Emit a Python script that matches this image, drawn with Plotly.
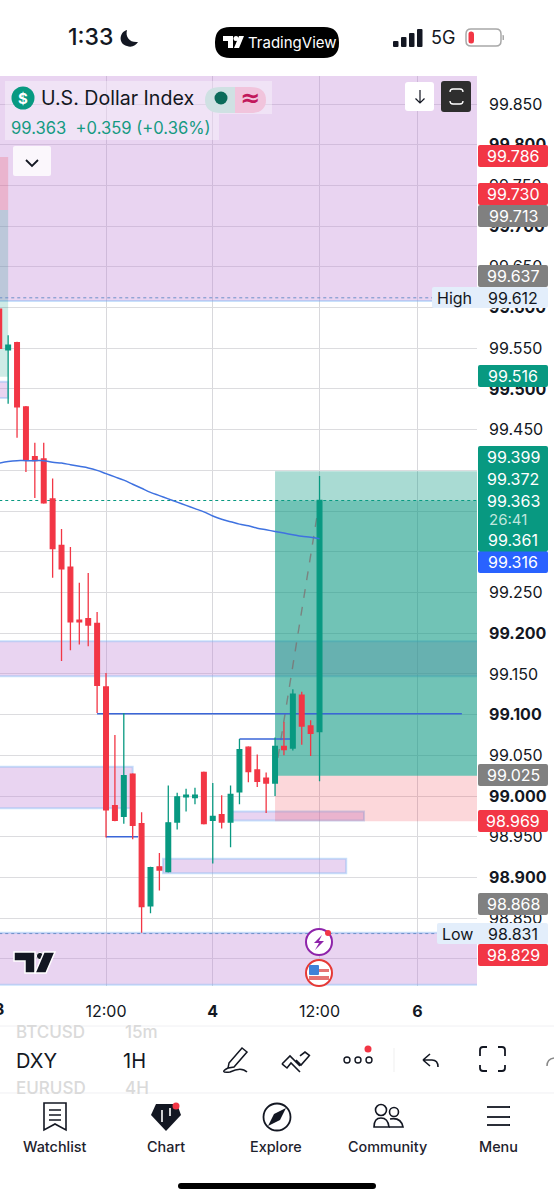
import plotly.graph_objects as go

# ---------- data ----------
opens  = [99.598,99.548,99.557,99.478,99.417,99.414,99.365,99.308,99.281,99.216,99.218,99.212,99.134,98.988,98.975,99.027,98.966,98.865,98.913,98.907,98.968,98.999,98.998,99.029,98.970,98.977,98.968,99.005,99.060,99.032,99.022,99.016,99.061,99.059,99.124,99.086,99.079]
highs  = [99.600,99.566,99.558,99.479,99.434,99.434,99.390,99.328,99.306,99.262,99.274,99.226,99.151,99.075,99.102,99.028,98.980,98.913,98.930,99.013,99.004,99.009,99.010,99.030,99.016,99.001,99.013,99.070,99.061,99.051,99.029,99.072,99.091,99.131,99.128,99.093,99.393]
lows   = [99.548,99.482,99.440,99.398,99.366,99.359,99.268,99.166,99.179,99.186,99.184,99.102,98.949,98.969,98.966,98.947,98.832,98.856,98.884,98.906,98.959,98.981,98.990,98.965,98.917,98.960,98.937,98.990,99.017,99.011,98.979,99.000,99.050,99.056,99.063,99.049,99.018]
closes = [99.550,99.554,99.478,99.413,99.412,99.360,99.304,99.279,99.214,99.214,99.210,99.136,98.983,98.970,99.025,98.964,98.864,98.912,98.909,98.967,98.999,99.001,99.001,98.966,98.975,98.968,99.002,99.057,99.030,99.018,99.016,99.061,99.057,99.125,99.086,99.077,99.363]
ma_values = [99.409,99.411,99.412,99.412,99.412,99.412,99.410,99.409,99.407,99.405,99.403,99.400,99.396,99.392,99.388,99.383,99.378,99.373,99.369,99.365,99.361,99.357,99.353,99.349,99.344,99.340,99.337,99.334,99.332,99.329,99.327,99.325,99.323,99.321,99.319,99.318,99.316]

price_ticks = [99.85,99.8,99.75,99.7,99.65,99.6,99.55,99.5,99.45,99.4,99.35,99.3,99.25,99.2,99.15,99.1,99.05,99.0,98.95,98.9,98.85,98.8]
bold_ticks  = [99.8,99.7,99.6,99.5,99.2,99.1,99.0,98.9,98.8]
time_ticks  = [12,24,36,47]
time_labels = ["12:00","<b>4</b>","12:00","<b>6</b>"]

zones = [  # x0, x1, top price, bottom price
    (-2,56,99.96,99.608),(-2,56,99.190,99.147),(-2,15.0,99.036,98.985),
    (18.4,39,98.923,98.905),(26,41,98.981,98.970),(-2,56,98.832,98.768),(-2,1,99.509,99.489)]
entry, target, stop, last = 99.025, 99.399, 98.969, 99.363
level_lines = [(11,52,99.101),(12,15.6,98.950),(27,33,99.070)]
high_price, low_price = 99.612, 98.831

tags = [("99.786","#F23645"),("99.730","#F23645"),("99.713","#808080"),("99.637","#808080"),
        ("99.516","#089981"),("99.316","#2962FF"),("99.025","#808080"),("98.969","#F23645"),
        ("98.868","#808080"),("98.829","#F23645")]
tag_y = [156,194,216,276,376,562,775,821,904,955]
block_labels = [("99.399",457,16),("99.372",479,16),("99.363",501,16),("26:41",519,15),("99.361",540,16)]

# ---------- page geometry ----------
W,H = 554,1200
L,R,T,B = 0,477,76,986
FONT = "Inter"
def px(x): return x/(R-L)
def py(y): return (B-y)/(B-T)

shapes=[]; notes=[]
def svg(s):
    out=[];n=0
    for t in s.split():
        if t.isalpha(): out.append(t);n=0
        else:
            v=float(t); out.append(f"{(px(v) if n%2==0 else py(v)):.5f}"); n+=1
    return " ".join(out)
def path(s,fill="rgba(0,0,0,0)",line=None,w=1.5,layer="above"):
    shapes.append(dict(type="path",xref="paper",yref="paper",path=svg(s),fillcolor=fill,
                       line=dict(color=line or "rgba(0,0,0,0)",width=w if line else 0),layer=layer))
def rr(x0,y0,x1,y1,r,fill="rgba(0,0,0,0)",line=None,w=1.5):
    path(f"M {x0+r} {y0} L {x1-r} {y0} Q {x1} {y0} {x1} {y0+r} L {x1} {y1-r} Q {x1} {y1} {x1-r} {y1} "
         f"L {x0+r} {y1} Q {x0} {y1} {x0} {y1-r} L {x0} {y0+r} Q {x0} {y0} {x0+r} {y0} Z",fill,line,w)
def circ(cx,cy,r,fill="rgba(0,0,0,0)",line=None,w=1.5):
    shapes.append(dict(type="circle",xref="paper",yref="paper",x0=px(cx-r),x1=px(cx+r),y0=py(cy+r),y1=py(cy-r),
                       fillcolor=fill,line=dict(color=line or "rgba(0,0,0,0)",width=w if line else 0),layer="above"))
def text(x,y,s,size,color="#131722",anchor="left",weight=400,fam=FONT):
    notes.append(dict(xref="paper",yref="paper",x=px(x),y=py(y),text=s,showarrow=False,xanchor=anchor,yanchor="middle",
                      borderpad=0,borderwidth=0,font=dict(family=fam,size=size,color=color,weight=weight)))
def dshape(**k):
    k.setdefault("layer","between"); shapes.append(k)

# ---------- chart drawings ----------
ZONE="rgba(190,130,215,0.34)"; ZB="rgba(120,180,245,0.40)"
for x0,x1,top,bot in zones:
    dshape(type="rect",x0=x0,x1=x1,y0=bot,y1=top,xref="x",yref="y",fillcolor=ZONE,line=dict(color=ZB,width=2))
# left-edge remains of an earlier position
dshape(type="rect",xref="x",yref="y",x0=-2,x1=1,y0=99.72,y1=99.785,fillcolor="rgba(242,54,69,0.2)",line=dict(width=0))
dshape(type="rect",xref="x",yref="y",x0=-2,x1=1,y0=99.515,y1=99.72,fillcolor="rgba(8,153,129,0.2)",line=dict(width=0))
# long position box
dshape(type="rect",xref="x",yref="y",x0=31,x1=56,y0=entry,y1=target,fillcolor="rgba(8,153,129,0.35)",line=dict(width=0))
dshape(type="rect",xref="x",yref="y",x0=31,x1=56,y0=entry,y1=last,fillcolor="rgba(8,153,129,0.35)",line=dict(width=0))
dshape(type="rect",xref="x",yref="y",x0=31,x1=56,y0=stop,y1=entry,fillcolor="rgba(242,54,69,0.2)",line=dict(width=0))
dshape(type="line",xref="x",yref="y",x0=31,x1=36,y0=entry,y1=last,line=dict(color="rgba(125,110,110,0.75)",width=1.4,dash="dash"))
for x0,x1,p in level_lines:
    dshape(type="line",xref="x",yref="y",x0=x0,x1=x1,y0=p,y1=p,line=dict(color="#3A66D8",width=1.6))
dshape(type="line",xref="x",yref="y",x0=0,x1=54,y0=last,y1=last,line=dict(color="#089981",width=1,dash="dot"))
dshape(type="line",xref="x",yref="y",x0=0,x1=54,y0=high_price,y1=high_price,line=dict(color="#6C8FC8",width=1,dash="dot"))
dshape(type="line",xref="x",yref="y",x0=0,x1=54,y0=low_price,y1=low_price,line=dict(color="#6C8FC8",width=1,dash="dot"))

# ---------- figure traces ----------
fig=go.Figure()
fig.add_trace(go.Candlestick(x=list(range(len(opens))),open=opens,high=highs,low=lows,close=closes,
    increasing=dict(line=dict(color="#089981",width=1.3),fillcolor="#089981"),
    decreasing=dict(line=dict(color="#F23645",width=1.3),fillcolor="#F23645"),
    whiskerwidth=0,hoverinfo="skip",showlegend=False))
fig.add_trace(go.Scatter(x=list(range(len(ma_values))),y=ma_values,mode="lines",
    line=dict(color="#3F72E0",width=1.5,shape="spline"),hoverinfo="skip",showlegend=False))

# ---------- price tags ----------
for (lab,col),y in zip(tags,tag_y):
    rr(478,y-11,548,y+11,2,col)
    text(513,y,lab,16,"#FFFFFF","center")
rr(478,446,548,551.5,2,"#089981")
for lab,y,s in block_labels:
    text(513 if lab!="26:41" else 489,y,lab,s,"#FFFFFF" if lab!="26:41" else "#BFE6DD","center" if lab!="26:41" else "left")
rr(432,287,548,308,2,"#E3EEFB"); text(454,297.5,"High",16,"#131722","center"); text(513,297.5,"99.612",16,"#131722","center")
rr(437,923,548,944,2,"#E3EEFB"); text(457,933.5,"Low",16,"#131722","center"); text(513,933.5,"98.831",16,"#131722","center")
text(-1,1009,"<b>3</b>",16,"#131722","center")

# ---------- legend overlay ----------
rr(5,81,272,114,0,"rgba(255,255,255,0.35)")
rr(5,114,219,140,0,"rgba(255,255,255,0.35)")
circ(23,98,11.5,"#089981"); text(23,98,"<b>$</b>",15,"#FFFFFF","center")
text(41,98,"U.S. Dollar Index",19.6)
path("M 221 87 L 221 113 Q 205 113 205 100 Q 205 87 221 87 Z","#CFE1E3")
path("M 235 87 L 221 87 L 221 113 L 235 113 Z","#CFE1E3")
path("M 235 87 L 250 87 Q 266 87 266 100 Q 266 113 250 113 L 235 113 Z","#F1C4DC")
circ(221,98,6.5,"#0B6B5A")
text(250,98,"<b>≈</b>",24,"#C2185B","center",fam="DejaVu Sans")
text(11,128,"99.363&nbsp;&nbsp;+0.359 (+0.36%)",16.6,"#159A82")
rr(13,146,51,176,2,"rgba(255,255,255,0.8)")
path("M 26 160 L 32 166 L 38 160",line="#131722",w=1.8)
rr(405,82,434,111,3,"#FFFFFF")
path("M 420 90 L 420 103 M 415.5 98.5 L 420 103 L 424.5 98.5",line="#131722",w=1.2)
rr(441,81,471,112,3,"#2E2E2E")
path("M 450 92 Q 450 89 453 89 L 460 89 Q 463 89 463 92 M 450 101 Q 450 104 453 104 L 460 104 Q 463 104 463 101",line="#FFFFFF",w=1.3)

# ---------- status bar ----------
text(68,37,"1:33",23,"#131722",weight=500)
path("M 127 30 C 119 32 118 44 127 46 C 132 48 136 45 138 42 C 130 43 125 37 127 30 Z","#131722")
rr(215,27,339,58,15,"#000000")
path("M 223 36 L 233 36 L 233 48 L 228 48 L 228 41 L 223 41 Z","#FFFFFF")
circ(236,38.5,2.5,"#FFFFFF")
path("M 239 36 L 244 36 L 239 48 L 234 48 Z","#FFFFFF")
text(248,43,"TradingView",15,"#FFFFFF")
for x,h in [(393,6),(401,10),(409,14),(417,18)]:
    rr(x,47-h,x+5.5,47,1,"#131722")
text(431,38,"5G",18,"#131722")
rr(466,29,501,46,5,"rgba(0,0,0,0)","#A8A8A8",1.5)
rr(468.5,31.5,474,43.5,2.5,"#F23645")
rr(502.5,35,504,40,0.5,"#A8A8A8")

# ---------- watermark ----------
path("M 14 952 L 35 952 L 35 973 L 25 973 L 25 961 L 14 961 Z","#131722","#FFFFFF",1.5)
circ(40,956,3.6,"#131722","#FFFFFF",1)
path("M 44 952 L 55 952 L 46 973 L 35 973 Z","#131722","#FFFFFF",1.5)

# ---------- event icons ----------
circ(319,942,13,"#FFFFFF","#8E24AA",2)
path("M 322 935 L 314 943 L 319 943 L 315 950 L 324 941 L 319 941 Z","#8E24AA")
circ(328,933,3,"#F23645")
circ(319,973,13,"#FFFFFF","#E53935",2)
path("M 309 969 L 329 969 L 329 972 L 309 972 Z","#E57373")
path("M 309 976 L 329 976 L 329 980 L 309 980 Z","#E57373")
rr(309,965,319,975,1,"#3F82D8")

# ---------- bottom toolbar ----------
path("M 0 1026 L 554 1026",line="#F0F0F3",w=1)
path("M 0 1093 L 554 1093",line="#F0F0F3",w=1)
text(16,1032,"BTCUSD",17,"#DADADA",weight=500); text(125,1032,"15m",17,"#DADADA",weight=500)
text(16,1061,"DXY",20,"#131722"); text(123,1061,"1H",20,"#131722")
text(16,1088,"EURUSD",17,"#DADADA",weight=500); text(125,1088,"4H",17,"#DADADA",weight=500)
path("M 229 1063 L 242 1048 L 247 1052 L 234 1067 L 228 1068 Z",line="#131722",w=1.5)
path("M 228 1068 C 222 1071 222 1073 230 1072 C 236 1069 242 1067 247 1072",line="#131722",w=1.5)
path("M 282 1064 L 290 1056 L 300 1066 M 282 1064 L 287 1068 L 291 1063 L 300 1072 M 296 1060 L 301 1065 L 309 1056 M 300 1056 L 305 1052 L 310 1056",line="#131722",w=1.6)
for x in (347,358,369): circ(x,1060,3,"#FFFFFF","#131722",1.4)
circ(368,1049,3.5,"#F23645")
path("M 394 1048 L 394 1072",line="#EFEFEF",w=1)
path("M 423 1060 L 430 1054 M 423 1060 L 430 1066 M 423 1060 L 432 1060 Q 438 1060 438 1067",line="#131722",w=1.6)
path("M 480 1056 L 480 1050 Q 480 1047 483 1047 L 487 1047 M 498 1047 L 502 1047 Q 505 1047 505 1050 L 505 1056 M 505 1065 L 505 1068 Q 505 1071 502 1071 L 498 1071 M 487 1071 L 483 1071 Q 480 1071 480 1068 L 480 1065",line="#131722",w=1.8)
path("M 547 1066 Q 547 1059 554 1058",line="#888888",w=1.5)

# ---------- tab bar ----------
for x,lab in [(55,"Watchlist"),(166,"Chart"),(276,"Explore"),(387,"Community"),(498,"Menu")]:
    text(x,1146,lab,14.4,"#1E222D","center",weight=500)
path("M 44 1103 L 66 1103 L 66 1130 L 55 1124 L 44 1130 Z",line="#131722",w=1.6)
path("M 49 1110 L 61 1110 M 49 1115 L 61 1115 M 49 1120 L 61 1120",line="#131722",w=1.4)
path("M 156 1104 L 177 1104 L 181 1115 L 166 1131 L 151 1115 Z","#131722")
path("M 162 1110 L 162 1122 M 170 1108 L 170 1116",line="#FFFFFF",w=1.6)
circ(176,1106,3.5,"#F23645")
circ(277,1117,13.5,"rgba(0,0,0,0)","#131722",1.8)
path("M 286 1108 L 280 1120 L 268 1126 L 274 1114 Z","#131722")
circ(381,1110,5.5,"rgba(0,0,0,0)","#131722",1.6); circ(394,1112,4.5,"rgba(0,0,0,0)","#131722",1.6)
path("M 374 1127 Q 374 1118 381 1118 Q 388 1118 389 1127 Z",line="#131722",w=1.6)
path("M 390 1119 Q 401 1117 403 1127 L 389 1127",line="#131722",w=1.6)
for y in (1107,1117,1125):
    path(f"M 487 {y} L 510 {y}",line="#131722",w=1.8)
rr(178,1183,376,1189,3,"#000000")

ticktext=[f"<b>{t:.3f}</b>" if t in bold_ticks else f"{t:.3f}" for t in price_ticks]
fig.update_layout(width=W,height=H,autosize=False,margin=dict(l=0,r=W-R,t=T,b=H-B,pad=0),boxgap=0.25,
    paper_bgcolor="#FFFFFF",plot_bgcolor="#FFFFFF",showlegend=False,shapes=shapes,annotations=notes,
    font=dict(family=FONT,size=16,color="#131722"),
    xaxis=dict(range=[0.0845,53.70],tickmode="array",tickvals=time_ticks,ticktext=time_labels,showgrid=True,
        gridcolor="#D8D8DC",gridwidth=1.4,zeroline=False,showline=False,ticks="",rangeslider=dict(visible=False),
        tickfont=dict(size=16,family=FONT,color="#131722"),ticklabelstandoff=14,fixedrange=True),
    yaxis=dict(range=[98.7666,99.8845],side="right",tickmode="array",tickvals=price_ticks,ticktext=ticktext,showgrid=True,
        gridcolor="#DCDCDF",gridwidth=1.4,zeroline=False,showline=False,ticks="",
        tickfont=dict(size=16,family=FONT,color="#131722"),ticklabelstandoff=11,fixedrange=True))
fig.write_html("out.html",config=dict(displayModeBar=False),post_script="document.body.style.margin='0';")
